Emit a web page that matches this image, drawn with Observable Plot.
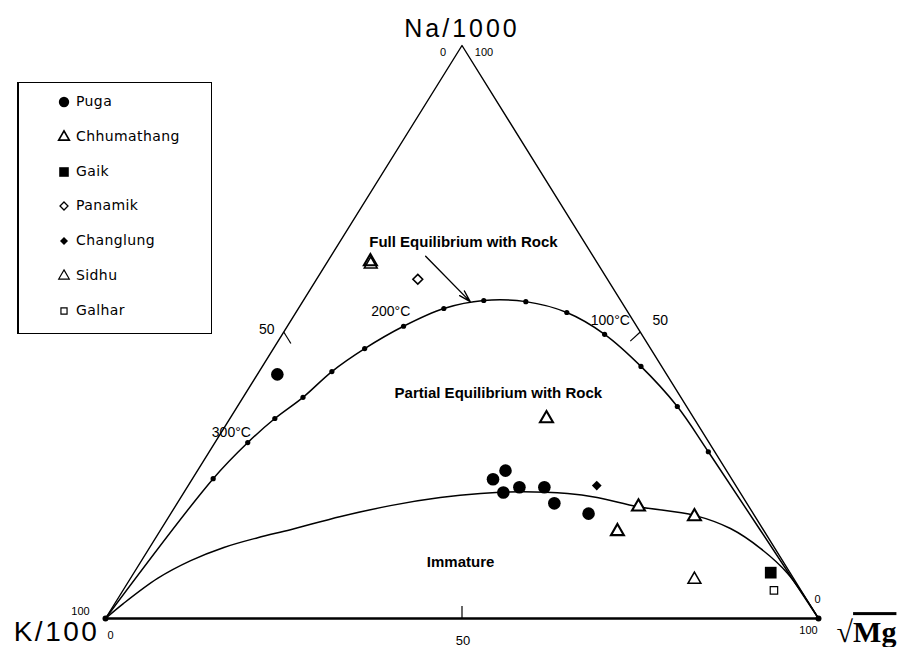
<!DOCTYPE html>
<html><head><meta charset="utf-8">
<script src="https://cdn.jsdelivr.net/npm/d3@7"></script>
<script src="https://cdn.jsdelivr.net/npm/@observablehq/plot@0.6"></script>
<style>
body{margin:0;background:#fff;}
#wrap{position:relative;width:903px;height:647px;overflow:hidden;}
#legend{position:absolute;left:17px;top:82px;width:195px;height:252px;border:1px solid #000;border-left-width:2px;box-sizing:border-box;font-family:"DejaVu Sans",sans-serif;font-size:14px;color:#000;background:#fff;}
.item{position:absolute;left:0;height:20px;}
.item svg{position:absolute;left:35px;top:0;}
.item span{position:absolute;left:57px;top:1px;white-space:nowrap;letter-spacing:0.4px;}
</style></head><body>
<div id="wrap"><div id="chart"></div><div id="legend"></div></div>
<script>
// ---- data (ternary percentages: na = Na/1000, mg = sqrt(Mg); K/100 = 100 - na - mg)
const seriesNames = ["Puga", "Chhumathang", "Gaik", "Panamik", "Changlung", "Sidhu", "Galhar"];
const puga = [
  {na: 42.6, mg: 2.8}, {na: 24.3, mg: 42.2}, {na: 25.8, mg: 43.2}, {na: 22.0, mg: 44.8},
  {na: 22.9, mg: 46.6}, {na: 22.9, mg: 50.1}, {na: 20.1, mg: 52.9}, {na: 18.3, mg: 58.6}
];
const chhumathang = [
  {na: 62.3, mg: 6.0}, {na: 34.9, mg: 44.4}, {na: 19.5, mg: 65.0}, {na: 17.8, mg: 73.7}, {na: 15.2, mg: 64.2}
];
const gaik = [{na: 8.0, mg: 89.3}];
const panamik = [{na: 59.2, mg: 14.2}];
const changlung = [{na: 23.2, mg: 57.3}];
const sidhu = [{na: 61.8, mg: 6.3}, {na: 6.8, mg: 79.2}];
const galhar = [{na: 4.9, mg: 91.3}];

// full equilibrium line (temperature dots) and the immature boundary
const fullEqDots = [
  {na: 24.4, mg: 2.9}, {na: 30.7, mg: 4.6}, {na: 34.9, mg: 6.3}, {na: 38.6, mg: 8.4},
  {na: 43.1, mg: 10.2}, {na: 47.1, mg: 12.8}, {na: 51.0, mg: 16.3}, {na: 54.1, mg: 20.4},
  {na: 55.5, mg: 25.3}, {na: 55.3, mg: 31.3}, {na: 53.4, mg: 38.0}, {na: 49.6, mg: 45.2},
  {na: 44.0, mg: 53.1}, {na: 37.0, mg: 61.7}, {na: 29.1, mg: 70.0}
];
const immature = [
  {na: 0, mg: 0}, {na: 2.6, mg: 1.2}, {na: 7.0, mg: 3.8}, {na: 10.1, mg: 6.9}, {na: 12.4, mg: 10.4},
  {na: 14.1, mg: 14.3}, {na: 15.5, mg: 18.2}, {na: 17.8, mg: 24.1}, {na: 19.7, mg: 30.1},
  {na: 21.1, mg: 36.4}, {na: 21.8, mg: 41.7}, {na: 22.1, mg: 47.2}, {na: 21.8, mg: 53.9},
  {na: 21.1, mg: 58.4}, {na: 19.5, mg: 65.0}, {na: 18.0, mg: 73.6}, {na: 15.7, mg: 79.8},
  {na: 12.2, mg: 85.8}, {na: 7.9, mg: 91.7}, {na: 0, mg: 100}
];
const vertices = [
  {name: "K/100", na: 0, mg: 0},
  {name: "Na/1000", na: 100, mg: 0},
  {name: "√Mg", na: 0, mg: 100}
];
const axisTicks = [50];
const cornerValues = ["0", "100"];
const tempLabels = [
  {text: "300°C", na: 32.5, mg: 1.4},
  {text: "200°C", na: 53.6, mg: 13.2},
  {text: "100°C", na: 52.0, mg: 44.8}
];
const regionLabels = [
  {text: "Full Equilibrium with Rock", na: 65.6, mg: 17.4},
  {text: "Partial Equilibrium with Rock", na: 39.4, mg: 35.4},
  {text: "Immature", na: 9.8, mg: 44.9}
];
const arrows = [{na1: 63.2, mg1: 13.3, na2: 55.3, mg2: 23.5}];

// ---- drawing
const X = d => d.mg + d.na / 2;
const Y = d => d.na;
const fullEq = [vertices[0], ...fullEqDots, vertices[2]];

const styles = {
  Puga:        {data: puga,        symbol: "circle",   r: 6.3, fill: "#000", stroke: "none", sw: 0},
  Chhumathang: {data: chhumathang, symbol: "triangle", r: 4.8, fill: "#fff", stroke: "#000", sw: 2.1},
  Gaik:        {data: gaik,        symbol: "square",   r: 6.6, fill: "#000", stroke: "none", sw: 0},
  Panamik:     {data: panamik,     symbol: "diamond2", r: 4.4, fill: "#fff", stroke: "#000", sw: 1.6},
  Changlung:   {data: changlung,   symbol: "diamond2", r: 4.4, fill: "#000", stroke: "none", sw: 0},
  Sidhu:       {data: sidhu,       symbol: "triangle", r: 4.8, fill: "none", stroke: "#000", sw: 1.5},
  Galhar:      {data: galhar,      symbol: "square",   r: 4.2, fill: "none", stroke: "#000", sw: 1.2}
};

const font = "'Liberation Sans', Arial, sans-serif";
const plot = Plot.plot({
  width: 903, height: 647,
  marginLeft: 105, marginRight: 85, marginTop: 45, marginBottom: 29,
  x: {domain: [0, 100], axis: null},
  y: {domain: [0, 100], axis: null},
  style: {fontFamily: font, fontSize: "14px", color: "#000", background: "#fff"},
  marks: [
    Plot.line([vertices[0], vertices[1], vertices[2]], {x: X, y: Y, stroke: "#000", strokeWidth: 1.4}),
    Plot.line([vertices[0], vertices[2]], {x: X, y: Y, stroke: "#000", strokeWidth: 2.3}),
    // 50 ticks
    Plot.link(axisTicks, {x1: v => v / 2, y1: v => v, x2: v => 2 + (v - 2) / 2, y2: v => v - 2, stroke: "#000", strokeWidth: 1.2}),
    Plot.link(axisTicks, {x1: v => 100 - v / 2, y1: v => v, x2: v => 100 - v - 0.6 + (v - 1.6) / 2, y2: v => v - 1.6, stroke: "#000", strokeWidth: 1.2}),
    Plot.link(axisTicks, {x1: v => v, y1: 0, x2: v => v, y2: 2.2, stroke: "#000", strokeWidth: 1.2}),
    Plot.text(axisTicks, {x: v => v / 2, y: v => v, text: v => String(v), dx: -17, dy: -2, fontSize: 14}),
    Plot.text(axisTicks, {x: v => 100 - v / 2, y: v => v, text: v => String(v), dx: 20, dy: -11, fontSize: 14}),
    Plot.text(axisTicks, {x: v => v, y: 0, text: v => String(v), dx: 1, dy: 22, fontSize: 13}),
    // curves
    Plot.line(fullEq, {x: X, y: Y, curve: "catmull-rom", stroke: "#000", strokeWidth: 1.5}),
    Plot.line(immature, {x: X, y: Y, curve: "catmull-rom", stroke: "#000", strokeWidth: 1.5}),
    Plot.dot(fullEqDots, {x: X, y: Y, r: 2.6, fill: "#000"}),
    Plot.dot([vertices[0], vertices[2]], {x: X, y: Y, r: 3, fill: "#000"}),
    // arrow
    Plot.arrow(arrows, {x1: d => d.mg1 + d.na1 / 2, y1: d => d.na1, x2: d => d.mg2 + d.na2 / 2, y2: d => d.na2,
      stroke: "#000", strokeWidth: 1.4, headLength: 13, headAngle: 32}),
    // data symbols
    ...seriesNames.map(n => {
      const s = styles[n];
      return Plot.dot(s.data, {x: X, y: Y, symbol: () => s.symbol, r: s.r, fill: s.fill, stroke: s.stroke, strokeWidth: s.sw});
    }),
    // labels
    Plot.text(regionLabels, {x: X, y: Y, text: "text", fontSize: 15, fontWeight: "bold"}),
    Plot.text(tempLabels, {x: X, y: Y, text: "text", fontSize: 14}),
    // corner values
    Plot.text([vertices[1]], {x: X, y: Y, text: () => cornerValues[0], dx: -19, dy: 7, fontSize: 11}),
    Plot.text([vertices[1]], {x: X, y: Y, text: () => cornerValues[1], dx: 22, dy: 7, fontSize: 11}),
    Plot.text([vertices[0]], {x: X, y: Y, text: () => cornerValues[1], dx: -25, dy: -7, fontSize: 11}),
    Plot.text([vertices[0]], {x: X, y: Y, text: () => cornerValues[0], dx: 5, dy: 17, fontSize: 11}),
    Plot.text([vertices[2]], {x: X, y: Y, text: () => cornerValues[0], dx: -1, dy: -19, fontSize: 11}),
    Plot.text([vertices[2]], {x: X, y: Y, text: () => cornerValues[1], dx: -10, dy: 12, fontSize: 11}),
    // axis titles
    Plot.text([vertices[1]], {x: X, y: Y, text: "name", dy: -17, fontSize: 25, fontFamily: font}),
    Plot.text([vertices[0]], {x: X, y: Y, text: "name", dx: -49, dy: 14, fontSize: 28, fontFamily: font}),
    Plot.text([vertices[2]], {x: X, y: Y, text: "name", dx: 48, dy: 14, fontSize: 30, fontWeight: "bold", fontFamily: "'Liberation Serif', 'Times New Roman', serif"})
  ]
});

// letter-spacing for the axis titles and the overbar of the square root
d3.select(plot).selectAll("text").each(function() {
  const t = this.textContent;
  if (t === "Na/1000") this.setAttribute("letter-spacing", "3");
  if (t === "K/100") this.setAttribute("letter-spacing", "2.5");
  if (t === "√Mg") {
    this.textContent = "";
    const sel = d3.select(this);
    sel.append("tspan").text("√");
    sel.append("tspan").style("text-decoration", "overline").text("Mg");
  }
});
document.getElementById("chart").appendChild(plot);

// ---- legend
const symbolTypes = {circle: d3.symbolCircle, triangle: d3.symbolTriangle, square: d3.symbolSquare, diamond2: d3.symbolDiamond2};
const legend = d3.select("#legend");
seriesNames.forEach((n, i) => {
  const s = styles[n];
  const item = legend.append("div").attr("class", "item").style("top", (9 + i * 34.8) + "px");
  const svg = item.append("svg").attr("width", 20).attr("height", 20);
  const rr = s.r * 0.82;
  svg.append("path")
    .attr("transform", "translate(10,10)")
    .attr("d", d3.symbol(symbolTypes[s.symbol], Math.PI * rr * rr)())
    .attr("fill", s.fill === "none" ? "none" : s.fill)
    .attr("stroke", s.stroke)
    .attr("stroke-width", s.sw ? Math.max(1.2, s.sw * 0.8) : 0);
  item.append("span").text(n);
});
</script>
</body></html>
